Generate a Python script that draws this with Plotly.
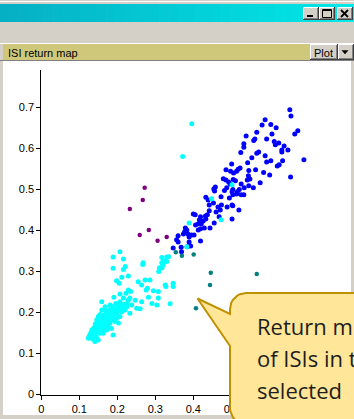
import math
import plotly.graph_objects as go

W, H = 354, 419

# ---------------- data ----------------
blue_x = [0.654,0.657,0.589,0.581,0.604,0.618,0.675,0.667,0.567,0.539,
          0.607,0.562,0.593,0.559,0.613,0.625,0.616,0.639,0.533,0.533,
          0.649,0.633,0.633,0.572,0.567,0.525,0.589,0.554,0.604,0.593,
          0.691,0.635,0.543,0.501,0.626,0.621,0.523,0.518,0.486,0.514,
          0.498,0.506,0.585,0.564,0.546,0.601,0.656,0.545,0.549,0.505,
          0.511,0.486,0.479,0.493,0.542,0.576,0.526,0.546,0.497,0.534,
          0.558,0.521,0.516,0.458,0.454,0.456,0.488,0.482,0.504,0.502,
          0.514,0.526,0.533,0.504,0.495,0.473,0.433,0.439,0.453,0.442,
          0.474,0.465,0.489,0.504,0.502,0.520,0.471,0.460,0.442,0.437,
          0.432,0.400,0.405,0.468,0.419,0.433,0.416,0.426,0.502,0.455,
          0.413,0.421,0.406,0.429,0.444,0.419,0.413,0.379,0.383,0.377,
          0.374,0.386,0.395,0.402,0.360,0.389,0.356,0.360,0.419,0.389,
          0.393,0.384,0.368,0.347,0.369]
blue_y = [0.694,0.679,0.670,0.657,0.658,0.650,0.643,0.635,0.639,0.630,
          0.635,0.623,0.623,0.619,0.617,0.613,0.609,0.606,0.611,0.603,
          0.596,0.596,0.591,0.591,0.588,0.590,0.582,0.577,0.570,0.567,
          0.572,0.570,0.565,0.562,0.560,0.557,0.552,0.549,0.548,0.544,
          0.544,0.540,0.541,0.548,0.546,0.535,0.530,0.533,0.525,0.524,
          0.521,0.523,0.526,0.518,0.523,0.516,0.513,0.509,0.513,0.504,
          0.504,0.500,0.494,0.506,0.501,0.496,0.504,0.497,0.500,0.494,
          0.489,0.487,0.487,0.487,0.479,0.482,0.481,0.474,0.467,0.462,
          0.462,0.457,0.457,0.460,0.462,0.450,0.450,0.445,0.448,0.438,
          0.435,0.440,0.438,0.433,0.433,0.428,0.426,0.423,0.428,0.418,
          0.416,0.416,0.413,0.406,0.406,0.404,0.401,0.406,0.401,0.396,
          0.391,0.391,0.389,0.389,0.387,0.384,0.377,0.372,0.374,0.372,
          0.362,0.360,0.359,0.357,0.348]

cyan_x = [0.396,0.372,0.502,0.448,0.389,0.473,0.383,
          0.317,0.330,0.335,0.321,0.330,0.319,0.311,0.318,
          0.207,0.189,0.216,0.221,0.216,0.189,0.268,0.267,0.326,0.317,
          0.321,0.312,0.309,0.229,0.212,0.198,0.205,0.255,0.273,0.286,
          0.264,0.279,0.276,0.295,0.308,0.326,0.328,0.347,0.347,0.229,
          0.235,0.223,0.207,0.191,0.216,0.233,0.247,0.264,0.282,0.308,
          0.304,0.291,0.339,0.159,0.181,0.207,0.189,0.203,0.225,0.238,
          0.251,0.260,0.220,0.212,0.198,0.181,0.172,0.159,0.150,0.146,
          0.163,0.176,0.189,0.207,0.194,0.181,0.168,0.154,0.141,0.133,
          0.128,0.124,0.137,0.146,0.159,0.172,0.185,0.189,0.141,0.150,
          0.163,0.176,0.203,0.225,0.159,0.168,0.229,0.216,0.233,
          0.146,0.154,0.163,0.137,0.150,0.172,0.185,0.198,0.181,0.194,
          0.203,0.212,0.189,0.154,0.133,0.168,0.159,0.176,
          0.130,0.139,0.144,0.152,0.158,0.166,0.170,0.178,0.185,0.192,
          0.160,0.148,0.140,0.135,0.126,0.157,0.165,0.175,0.195,0.200,
          0.210,0.218,0.196,0.183,0.170,0.155,0.145,0.152,0.142,0.167]
cyan_y = [0.660,0.580,0.511,0.477,0.418,0.426,0.360,
          0.334,0.335,0.336,0.324,0.324,0.318,0.309,0.309,
          0.348,0.335,0.330,0.312,0.305,0.308,0.321,0.317,0.326,0.321,
          0.316,0.308,0.300,0.289,0.286,0.277,0.271,0.275,0.279,0.279,
          0.267,0.259,0.255,0.253,0.251,0.267,0.263,0.271,0.263,0.255,
          0.251,0.247,0.245,0.237,0.235,0.235,0.230,0.226,0.237,0.235,
          0.218,0.222,0.221,0.226,0.218,0.226,0.214,0.216,0.222,0.218,
          0.210,0.209,0.206,0.202,0.198,0.206,0.198,0.194,0.190,0.182,
          0.182,0.186,0.186,0.190,0.178,0.174,0.170,0.165,0.165,0.157,
          0.145,0.137,0.149,0.153,0.157,0.157,0.161,0.145,0.129,0.133,
          0.149,0.165,0.174,0.214,0.206,0.214,0.230,0.213,0.198,
          0.174,0.178,0.170,0.161,0.161,0.178,0.182,0.186,0.194,0.206,
          0.210,0.218,0.198,0.149,0.141,0.161,0.170,0.174,
          0.150,0.155,0.160,0.168,0.175,0.180,0.188,0.192,0.198,0.204,
          0.185,0.170,0.145,0.135,0.142,0.162,0.167,0.182,0.195,0.202,
          0.210,0.220,0.222,0.210,0.205,0.195,0.140,0.155,0.172,0.195]

purple_x = [0.233,0.267,0.272,0.259,0.283,0.306,0.330]
purple_y = [0.452,0.474,0.504,0.389,0.401,0.375,0.384]

teal_x = [0.354,0.370,0.401,0.446,0.444,0.407,0.567]
teal_y = [0.347,0.338,0.341,0.297,0.267,0.210,0.294]

x_tick_vals = [0, 0.1, 0.2, 0.3, 0.4, 0.5, 0.6, 0.7, 0.8]
x_tick_text = ["0", "0.1", "0.2", "0.3", "0.4", "0.5", "0.6", "0.7", "0.8"]
y_tick_vals = [0, 0.1, 0.2, 0.3, 0.4, 0.5, 0.6, 0.7]
y_tick_text = ["0", "0.1", "0.2", "0.3", "0.4", "0.5", "0.6", "0.7"]

panel_title = "ISI return map"
button_label = "Plot"
callout_lines = ["Return m", "of ISIs in t", "selected"]

# ---------------- helpers (pixel -> paper) ----------------
def fx(x):
    return x / W

def fy(y):
    return 1 - y / H

shapes = []

def rect(x0, y0, x1, y1, fill, layer="above", line_color=None, lw=0):
    shapes.append(dict(type="rect", xref="paper", yref="paper",
                       x0=fx(x0), x1=fx(x1), y0=fy(y1), y1=fy(y0),
                       fillcolor=fill, layer=layer,
                       line=dict(color=line_color or fill, width=lw)))

def seg(x0, y0, x1, y1, color, w=1, layer="above"):
    shapes.append(dict(type="line", xref="paper", yref="paper",
                       x0=fx(x0), y0=fy(y0), x1=fx(x1), y1=fy(y1),
                       line=dict(color=color, width=w), layer=layer))

def poly(pts, fill, layer="above"):
    s = "M " + " L ".join(f"{fx(x):.5f},{fy(y):.5f}" for x, y in pts) + " Z"
    shapes.append(dict(type="path", xref="paper", yref="paper", path=s,
                       fillcolor=fill, line=dict(color=fill, width=0.5), layer=layer))

def button3d(x0, y0, x1, y1):
    rect(x0, y0, x1, y1, "#D4D0C8")
    seg(x0 + 0.5, y0 + 0.5, x1 - 0.5, y0 + 0.5, "#FFFFFF")
    seg(x0 + 0.5, y0 + 0.5, x0 + 0.5, y1 - 0.5, "#FFFFFF")
    seg(x0, y1 - 0.5, x1, y1 - 0.5, "#404040")
    seg(x1 - 0.5, y0, x1 - 0.5, y1, "#404040")
    seg(x0 + 1, y1 - 1.5, x1 - 1, y1 - 1.5, "#808080")
    seg(x1 - 1.5, y0 + 1, x1 - 1.5, y1 - 1, "#808080")

# ---------------- window chrome ----------------
rect(3, 61, 351, 415, "#FFFFFF", layer="below")
seg(0, 1.5, W, 1.5, "#FFFFFF")

n = 40
c0 = (6, 176, 196)
c1 = (0, 232, 232)
for i in range(n):
    t = i / (n - 1)
    col = "rgb(%d,%d,%d)" % tuple(round(c0[k] + (c1[k] - c0[k]) * t) for k in range(3))
    rect(i * W / n, 4, (i + 1) * W / n + 0.6, 22, col)

button3d(303, 7, 319, 20)
button3d(319, 7, 335, 20)
button3d(337, 7, 353, 20)
rect(307, 15, 313, 17, "#000000")
rect(322.5, 9.5, 331.5, 17.5, "rgba(0,0,0,0)", line_color="#000000", lw=1)
seg(322.5, 10.5, 331.5, 10.5, "#000000")
seg(341, 10, 348, 17, "#000000", 1.8)
seg(348, 10, 341, 17, "#000000", 1.8)

seg(0, 43.5, W, 43.5, "#FFFFFF")
rect(3, 44, 310, 60, "#CFC87A")
button3d(310, 44, 338, 60)
button3d(338, 44, 354, 60)
poly([(342, 50.5), (348, 50.5), (345, 54)], "#000000")
seg(0, 60.5, W, 60.5, "#808080")

# ---------------- call-out bubble outline (pixel space, overlay axes) ----------------
def arc(cx, cy, r, a0, a1, steps=8):
    return [(cx + r * math.cos(math.radians(a0 + (a1 - a0) * k / steps)),
             cy + r * math.sin(math.radians(a0 + (a1 - a0) * k / steps)))
            for k in range(steps + 1)]

bubble = [(246, 293), (366, 293), (366, 424), (246, 424)]
bubble += arc(246, 408, 16, 90, 180)
bubble += [(230, 346), (197.5, 298.5), (230, 314)]
bubble += arc(246, 309, 16, 180, 270)
bubble.append((246, 293))
bx = [p[0] for p in bubble]
by = [p[1] for p in bubble]

# ---------------- traces ----------------
fig = go.Figure()
fig.add_trace(go.Scatter(x=blue_x, y=blue_y, mode="markers",
                         marker=dict(color="#0000FF", size=5, line=dict(width=0)),
                         hoverinfo="skip", showlegend=False))
fig.add_trace(go.Scatter(x=cyan_x, y=cyan_y, mode="markers",
                         marker=dict(color="#00FFFF", size=5, line=dict(width=0)),
                         hoverinfo="skip", showlegend=False))
fig.add_trace(go.Scatter(x=purple_x, y=purple_y, mode="markers",
                         marker=dict(color="#800080", size=4.5, line=dict(width=0)),
                         hoverinfo="skip", showlegend=False))
fig.add_trace(go.Scatter(x=teal_x, y=teal_y, mode="markers",
                         marker=dict(color="#008080", size=4.5, line=dict(width=0)),
                         hoverinfo="skip", showlegend=False))
fig.add_trace(go.Scatter(x=bx, y=by, xaxis="x2", yaxis="y2", mode="lines",
                         fill="toself", fillcolor="#FFE699",
                         line=dict(color="#BF9000", width=2),
                         hoverinfo="skip", showlegend=False))

tick_font = dict(family="Liberation Sans, Arial, sans-serif", size=11, color="#000000")

annotations = [
    dict(text=panel_title, x=fx(6), y=fy(52.5), xref="paper", yref="paper",
         xanchor="left", yanchor="middle", showarrow=False,
         font=dict(family="Liberation Sans, Arial, sans-serif", size=11, color="#000000")),
    dict(text=button_label, x=fx(323.5), y=fy(52.5), xref="paper", yref="paper",
         xanchor="center", yanchor="middle", showarrow=False,
         font=dict(family="Liberation Sans, Arial, sans-serif", size=11, color="#000000")),
]
for txt, cy in zip(callout_lines, [326, 358, 390]):
    annotations.append(dict(text=txt, x=fx(255), y=fy(cy), xref="paper", yref="paper",
                            xanchor="left", yanchor="middle", showarrow=False,
                            font=dict(family="Open Sans, Noto Sans, sans-serif",
                                      size=22, color="#1E1E1E")))

fig.update_layout(
    width=W, height=H, autosize=False,
    margin=dict(l=0, r=0, t=0, b=0, pad=0),
    paper_bgcolor="#D4D0C8", plot_bgcolor="rgba(0,0,0,0)",
    showlegend=False,
    shapes=shapes, annotations=annotations,
    xaxis=dict(domain=[fx(41.3), fx(351)], range=[0, 0.815],
               showline=True, linecolor="#000000", linewidth=1,
               ticks="outside", ticklen=4, tickwidth=1, tickcolor="#000000",
               tickvals=x_tick_vals, ticktext=x_tick_text, tickfont=tick_font,
               showgrid=False, zeroline=False, fixedrange=True, automargin=False),
    yaxis=dict(domain=[fy(394.5), fy(70)], range=[0, 0.791],
               showline=True, linecolor="#000000", linewidth=1,
               ticks="outside", ticklen=4, tickwidth=1, tickcolor="#000000",
               tickvals=y_tick_vals, ticktext=y_tick_text, tickfont=tick_font,
               showgrid=False, zeroline=False, fixedrange=True, automargin=False),
    xaxis2=dict(domain=[0, 1], range=[0, W], visible=False, fixedrange=True,
                anchor="y2", showgrid=False, zeroline=False),
    yaxis2=dict(domain=[0, 1], range=[H, 0], visible=False, fixedrange=True,
                anchor="x2", showgrid=False, zeroline=False),
)

fig.write_html("out.html", config={"displayModeBar": False})
